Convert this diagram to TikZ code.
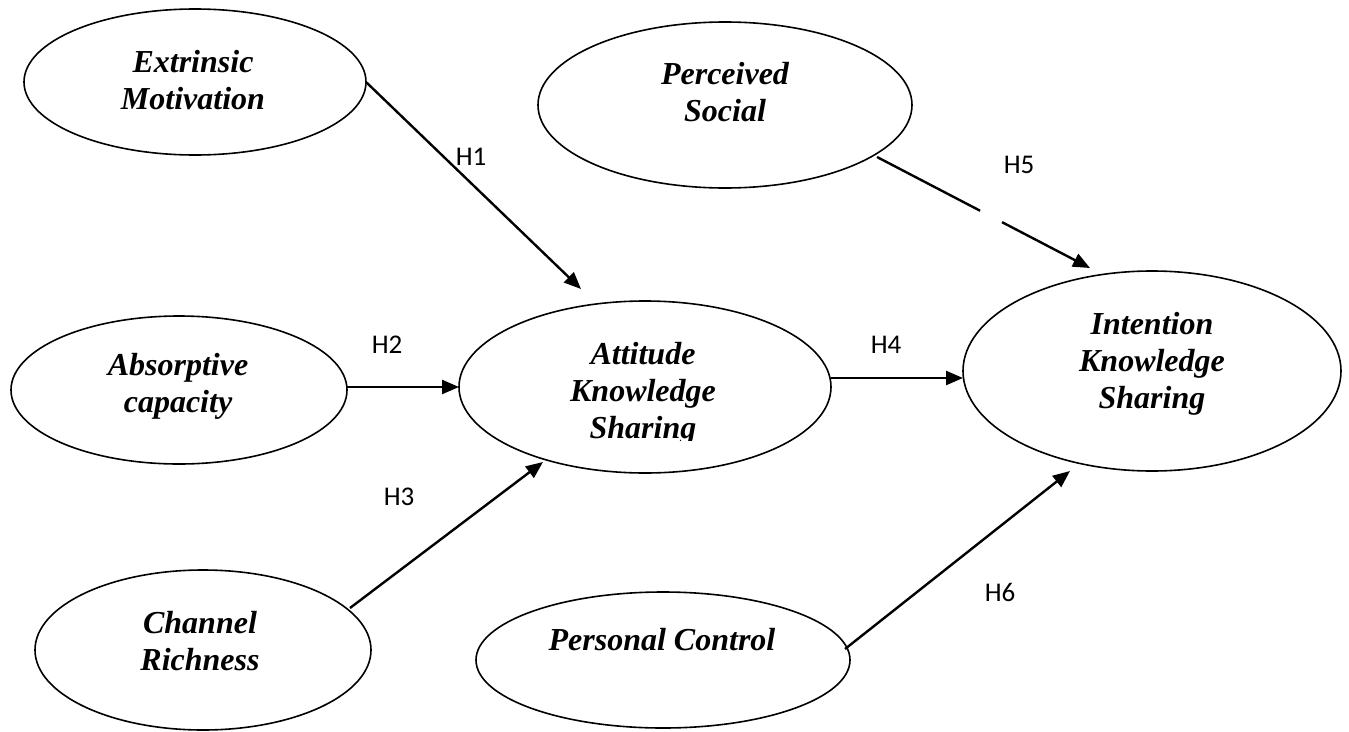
\documentclass[tikz,border=0pt]{standalone}
\usepackage{fontspec}
\setmainfont{Liberation Serif}
\newfontfamily\hfont{Carlito}
\usetikzlibrary{arrows.meta,calc,shapes.geometric}
\begin{document}
\begin{tikzpicture}[x=1pt,y=-1pt,
  ell/.style={draw, ellipse, line width=1.6pt, inner sep=0pt, outer sep=0pt},
  txt/.style={align=center, inner sep=0pt, font=\fontsize{32}{37}\selectfont\bfseries\itshape},
  hlab/.style={inner sep=0pt, font=\hfont\fontsize{27}{30}\selectfont},
  conn/.style={line width=2.4pt},
  arr/.style={conn, -{Triangle[length=17pt,width=14pt]}}]
\clip (0,0) rectangle (1349,731);
\fill[white] (0,0) rectangle (1349,731);
% ellipses
\node[ell, minimum width=342pt, minimum height=146pt] (ext) at (195,82) {};
\node[txt] (extT) at (193,80) {Extrinsic\\Motivation};
\node[ell, minimum width=374pt, minimum height=166pt] (per) at (725,105) {};
\node[txt] (perT) at (725,92) {Perceived\\Social};
\node[ell, minimum width=336pt, minimum height=148pt] (abs) at (179,390) {};
\node[txt] (absT) at (178,386) {Absorptive\\capacity};
\node[ell, minimum width=372pt, minimum height=172pt] (att) at (645,387) {};
\begin{scope}
\clip (459,300) rectangle (831,440);
\node[txt] (attT) at (643,394) {Attitude\\Knowledge\\Sharing};
\end{scope}
\node[ell, minimum width=378pt, minimum height=200pt] (int) at (1152,371) {};
\node[txt] (intT) at (1152,364) {Intention\\Knowledge\\Sharing};
\node[ell, minimum width=336pt, minimum height=160pt] (cha) at (203,650) {};
\node[txt] (chaT) at (200,641) {Channel\\Richness};
\node[ell, minimum width=374pt, minimum height=136pt] (pc) at (663,660) {};
\node[txt] (pcT) at (662,640) {Personal Control};
% connectors
\draw[arr] (ext.east) -- ([shift={(-64,-98)}]att.center);
\draw[arr] ([shift={(168,-3)}]abs.center) -- (att.west);
\draw[arr] ([shift={(147,-42)}]cha.center) -- ([shift={(-102,75)}]att.center);
\draw[arr] ([shift={(186,-9)}]att.center) -- ([shift={(-189,7)}]int.center);
\coordinate (h5s) at ([shift={(152,52)}]per.center);
\coordinate (h5e) at ([shift={(-62,-103)}]int.center);
\coordinate (h5a) at ($(h5s)!0.484!(h5e)$);
\coordinate (h5b) at ($(h5s)!0.587!(h5e)$);
\draw[conn] (h5s) -- (h5a);
\draw[arr] (h5b) -- (h5e);
\draw[arr] ([shift={(182,-11)}]pc.center) -- ([shift={(-82,100)}]int.center);
% labels
\node[hlab] (l1) at (471,157) {H1};
\node[hlab] (l2) at (387,345) {H2};
\node[hlab] (l3) at (399,497) {H3};
\node[hlab] (l4) at (886,345) {H4};
\node[hlab] (l5) at (1019,165) {H5};
\node[hlab] (l6) at (1000,592) {H6};
\end{tikzpicture}
\end{document}
